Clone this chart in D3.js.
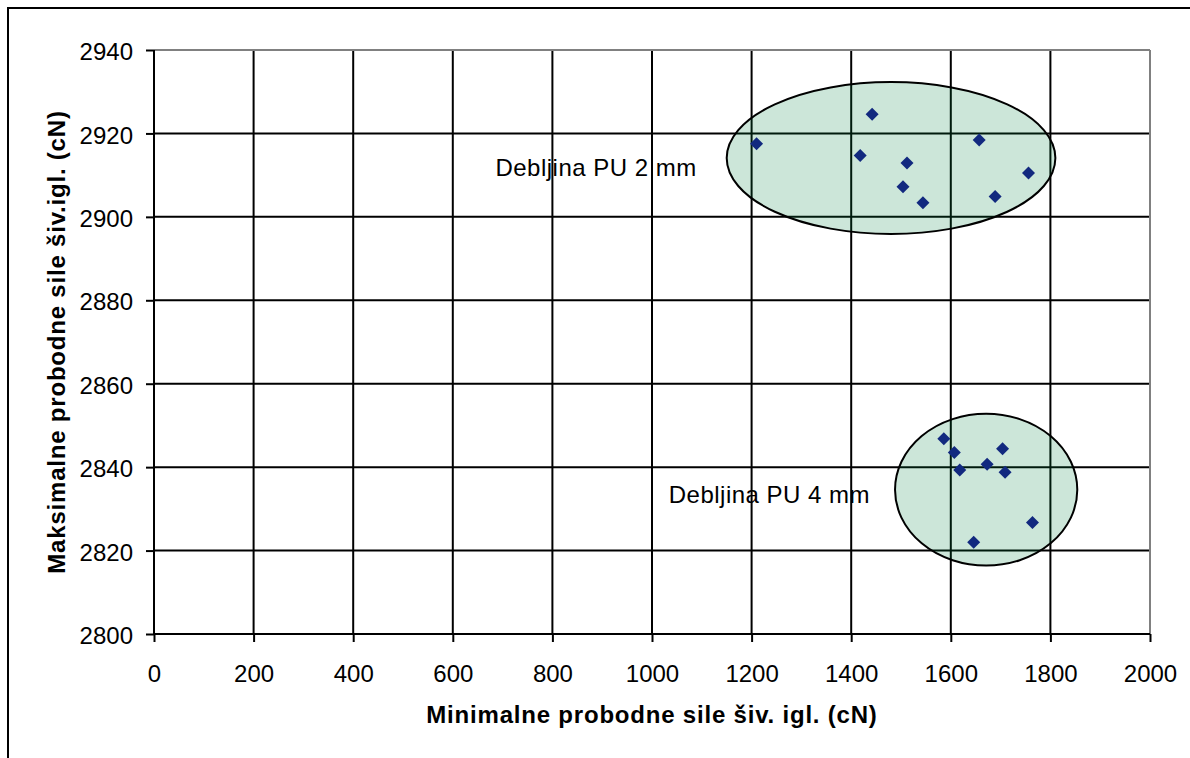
<!DOCTYPE html>
<html>
<head>
<meta charset="utf-8">
<script src="https://cdn.jsdelivr.net/npm/d3@7"></script>
<style>
  html, body { margin: 0; padding: 0; background: #fff; }
  svg { display: block; font-family: "Liberation Sans", Arial, sans-serif; }
</style>
</head>
<body>
<svg id="chart" width="1190" height="758"></svg>
<script>
// ---- data ----
const xTicks = [0, 200, 400, 600, 800, 1000, 1200, 1400, 1600, 1800, 2000];
const yTicks = [2800, 2820, 2840, 2860, 2880, 2900, 2920, 2940];

const pu2X = [1210, 1442, 1418, 1512, 1504, 1544, 1657, 1689, 1756];
const pu2Y = [2917.5, 2924.6, 2914.7, 2912.9, 2907.2, 2903.4, 2918.4, 2904.9, 2910.5];

const pu4X = [1586, 1607, 1618, 1673, 1704, 1709, 1764, 1646];
const pu4Y = [2846.8, 2843.5, 2839.3, 2840.7, 2844.4, 2838.8, 2826.7, 2822.0];

// group outlines: centre x, centre y, radius x, radius y (data units)
const groupCx = [1480, 1671];
const groupCy = [2914.1, 2834.6];
const groupRx = [330, 183];
const groupRy = [18.2, 18.2];

const groupLabels = ["Debljina PU 2 mm", "Debljina PU 4 mm"];
const labelX = [1090, 1438];
const labelY = [2909.8, 2831.5];

const xTitle = "Minimalne probodne sile šiv. igl. (cN)";
const yTitle = "Maksimalne probodne sile šiv.igl. (cN)";

// ---- layout ----
const svg = d3.select("#chart");
const x = d3.scaleLinear().domain([0, 2000]).range([154, 1150]);
const y = d3.scaleLinear().domain([2800, 2940]).range([634, 50]);

// outer frame (right/bottom edges fall outside the picture)
svg.append("rect")
  .attr("x", 8).attr("y", 8).attr("width", 1300).attr("height", 900)
  .attr("fill", "none").attr("stroke", "#000").attr("stroke-width", 2);

// grid
const grid = svg.append("g");
grid.selectAll("line.v").data(xTicks.slice(1, -1)).join("line")
  .attr("x1", d => x(d)).attr("x2", d => x(d))
  .attr("y1", y(2940)).attr("y2", y(2800))
  .attr("stroke", "#000").attr("stroke-width", 2);
grid.selectAll("line.h").data(yTicks.slice(1, -1)).join("line")
  .attr("x1", x(0)).attr("x2", x(2000))
  .attr("y1", d => y(d)).attr("y2", d => y(d))
  .attr("stroke", "#000").attr("stroke-width", 2);

// plot area border (top/right gray)
svg.append("line").attr("x1", x(0)).attr("x2", x(2000)).attr("y1", y(2940)).attr("y2", y(2940))
  .attr("stroke", "#808080").attr("stroke-width", 2);
svg.append("line").attr("x1", x(2000)).attr("x2", x(2000)).attr("y1", y(2940)).attr("y2", y(2800))
  .attr("stroke", "#808080").attr("stroke-width", 2);

// ellipses
const ell = groupCx.map((cx, i) => ({cx, cy: groupCy[i], rx: groupRx[i], ry: groupRy[i]}));
svg.append("g").selectAll("ellipse").data(ell).join("ellipse")
  .attr("cx", d => x(d.cx)).attr("cy", d => y(d.cy))
  .attr("rx", d => x(d.cx + d.rx) - x(d.cx))
  .attr("ry", d => y(d.cy - d.ry) - y(d.cy))
  .attr("fill", "#008040").attr("fill-opacity", 0.2)
  .attr("stroke", "#000").attr("stroke-width", 2);

// axes
const fontSize = 24;
const xAxis = svg.append("g").attr("transform", `translate(0,${y(2800)})`)
  .call(d3.axisBottom(x).tickValues(xTicks).tickSize(8).tickPadding(23).tickFormat(d3.format("d")));
const yAxis = svg.append("g").attr("transform", `translate(${x(0)},0)`)
  .call(d3.axisLeft(y).tickValues(yTicks).tickSize(8).tickPadding(13).tickFormat(d3.format("d")));
[xAxis, yAxis].forEach(a => {
  a.select(".domain").attr("stroke", "#000").attr("stroke-width", 2);
  a.selectAll(".tick line").attr("stroke", "#000").attr("stroke-width", 2);
  a.selectAll(".tick text").attr("fill", "#000")
    .style("font-size", fontSize + "px").style("font-family", "'Liberation Sans', Arial, sans-serif");
});
yAxis.selectAll(".tick text").attr("dy", "0.4em");
xAxis.select(".domain").attr("d", `M${x(0)},0H${x(2000)}`);
yAxis.select(".domain").attr("d", `M0,${y(2800)}V${y(2940)}`);

// points
const diamond = "M0,-6.5L6.5,0L0,6.5L-6.5,0Z";
const pts = pu2X.map((v, i) => ({x: v, y: pu2Y[i]}))
  .concat(pu4X.map((v, i) => ({x: v, y: pu4Y[i]})));
svg.append("g").selectAll("path").data(pts).join("path")
  .attr("d", diamond)
  .attr("transform", d => `translate(${x(d.x)},${y(d.y)})`)
  .attr("fill", "#12297f");

// group labels
svg.append("g").selectAll("text").data(groupLabels).join("text")
  .attr("x", (d, i) => x(labelX[i])).attr("y", (d, i) => y(labelY[i]))
  .attr("text-anchor", "end")
  .style("font-size", fontSize + "px").style("letter-spacing", "0.5px")
  .attr("fill", "#000")
  .text(d => d);

// axis titles
svg.append("text")
  .attr("x", (x(0) + x(2000)) / 2).attr("y", 723)
  .attr("text-anchor", "middle")
  .style("font-size", "24px").style("font-weight", "bold").style("letter-spacing", "0.8px")
  .text(xTitle);
svg.append("text")
  .attr("transform", `translate(65,${(y(2800) + y(2940)) / 2}) rotate(-90)`)
  .attr("text-anchor", "middle")
  .style("font-size", "24px").style("font-weight", "bold").style("letter-spacing", "0.8px")
  .text(yTitle);
</script>
</body>
</html>
